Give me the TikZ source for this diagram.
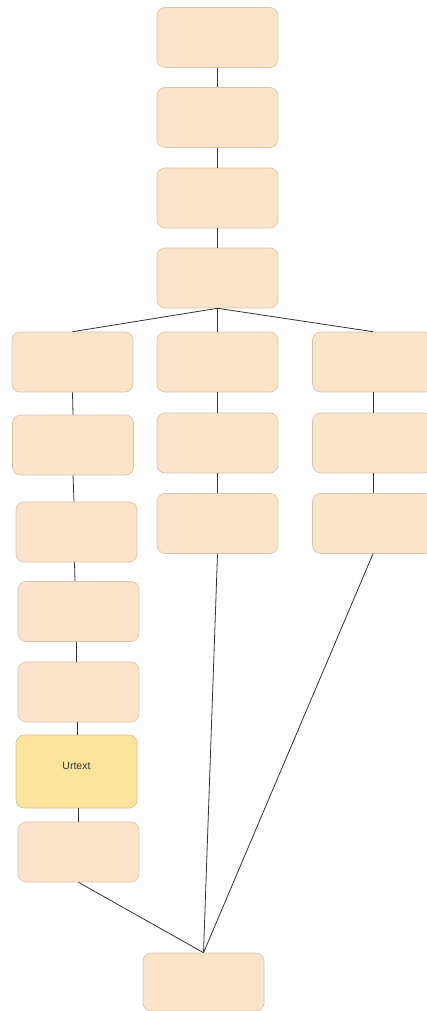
\documentclass[tikz,border=0pt]{standalone}
\usepackage{fontspec}
\setmainfont{Liberation Sans}
\definecolor{peach}{HTML}{FCE4CB}
\definecolor{peachline}{HTML}{D8C2AC}
\definecolor{urfill}{HTML}{FDE49C}
\definecolor{urline}{HTML}{D9C08A}
\definecolor{conn}{HTML}{333333}
\begin{document}
\begin{tikzpicture}[x=1pt,y=-1pt,
  box/.style={draw=peachline, fill=peach, rounded corners=8pt, line width=0.6pt,
    minimum width=121pt, minimum height=60pt, inner sep=0pt},
  urbox/.style={box, draw=urline, fill=urfill, minimum height=73pt},
  link/.style={draw=conn, line width=0.8pt}]
\useasboundingbox (0,0) rectangle (427,1011);
% top column
\node[box] (t1) at (217.5,37.5) {};
\node[box] (t2) at (217.5,117.5) {};
\node[box] (t3) at (217.5,198) {};
\node[box] (t4) at (217.5,278) {};
% left column
\node[box] (l1) at (72.5,362) {};
\node[box] (l2) at (73,445) {};
\node[box] (l3) at (76.5,532) {};
\node[box] (l4) at (78.5,611.5) {};
\node[box] (l5) at (78.5,692) {};
\node[urbox] (u) at (76.5,771.5) {};
\node[font=\fontsize{10.5}{12}\selectfont, text=conn] (ut) at (76.5,765.5) {Urtext};
\node[box] (l7) at (78.5,852) {};
% middle column
\node[box] (m1) at (217.5,362) {};
\node[box] (m2) at (217.5,443) {};
\node[box] (m3) at (217.5,523.5) {};
% right column
\node[box] (r1) at (373,362) {};
\node[box] (r2) at (373,443) {};
\node[box] (r3) at (373,523.5) {};
% bottom
\node[box, minimum height=58pt] (b) at (203.5,982) {};
% connectors
\draw[link] (t1.south) -- (t2.north);
\draw[link] (t2.south) -- (t3.north);
\draw[link] (t3.south) -- (t4.north);
\draw[link] (t4.south) -- (l1.north);
\draw[link] (t4.south) -- (m1.north);
\draw[link] (t4.south) -- (r1.north);
\draw[link] (l1.south) -- (l2.north);
\draw[link] (l2.south) -- ([xshift=-2.5pt]l3.north);
\draw[link] ([xshift=-2pt]l3.south) -- ([xshift=-3.5pt]l4.north);
\draw[link] ([xshift=-2.5pt]l4.south) -- ([xshift=-2.5pt]l5.north);
\draw[link] ([xshift=-1.5pt]l5.south) -- ([xshift=0.5pt]u.north);
\draw[link] ([xshift=2pt]u.south) -- (l7.north);
\draw[link] (m1.south) -- (m2.north);
\draw[link] (m2.south) -- (m3.north);
\draw[link] (r1.south) -- (r2.north);
\draw[link] (r2.south) -- (r3.north);
\draw[link] (l7.south) -- (b.north);
\draw[link] (m3.south) -- (b.north);
\draw[link] (r3.south) -- (b.north);
\end{tikzpicture}
\end{document}
